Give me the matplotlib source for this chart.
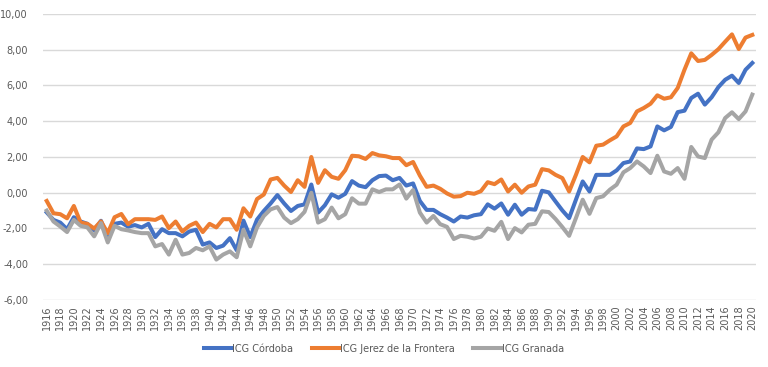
import matplotlib
matplotlib.use("Agg")
import matplotlib.pyplot as plt
from matplotlib.ticker import FuncFormatter, MultipleLocator

years = list(range(1916, 2021))

cordoba = [
    -1.10, -1.52, -1.67, -2.04, -1.37, -1.61, -1.74, -2.10, -1.57, -2.50,
    -1.74, -1.67, -1.90, -1.81, -1.94, -1.74, -2.48, -2.04, -2.26, -2.26,
    -2.44, -2.17, -2.07, -2.90, -2.78, -3.09, -2.96, -2.54, -3.22, -1.56,
    -2.48, -1.50, -1.02, -0.60, -0.13, -0.60, -1.02, -0.74, -0.65, 0.46,
    -1.11, -0.70, -0.09, -0.28, -0.06, 0.65, 0.40, 0.31, 0.70, 0.93,
    0.96, 0.70, 0.83, 0.40, 0.52, -0.46, -0.96, -0.96, -1.20, -1.39,
    -1.61, -1.33, -1.39, -1.26, -1.20, -0.65, -0.89, -0.60, -1.23, -0.67,
    -1.23, -0.91, -0.95, 0.11, 0.02, -0.49, -0.99, -1.42, -0.39, 0.63,
    0.07, 1.00, 1.00, 1.00, 1.25, 1.66, 1.75, 2.48, 2.44, 2.59,
    3.71, 3.49, 3.68, 4.51, 4.59, 5.30, 5.54, 4.93, 5.34, 5.91,
    6.32, 6.55, 6.14, 6.88, 7.26,
]

jerez = [
    -0.46, -1.15, -1.20, -1.43, -0.74, -1.67, -1.74, -2.00, -1.60, -2.26,
    -1.37, -1.19, -1.76, -1.48, -1.48, -1.48, -1.52, -1.33, -1.98, -1.61,
    -2.17, -1.85, -1.67, -2.20, -1.74, -1.94, -1.48, -1.48, -2.07, -0.87,
    -1.33, -0.35, -0.10, 0.74, 0.83, 0.40, 0.04, 0.70, 0.33, 2.00,
    0.55, 1.26, 0.89, 0.78, 1.26, 2.07, 2.04, 1.89, 2.22, 2.09,
    2.04, 1.94, 1.94, 1.54, 1.72, 0.96, 0.33, 0.40, 0.22, -0.04,
    -0.22, -0.19, 0.00, -0.06, 0.09, 0.59, 0.48, 0.74, 0.07, 0.45,
    0.00, 0.35, 0.45, 1.32, 1.25, 1.00, 0.82, 0.07, 1.00, 2.00,
    1.70, 2.63, 2.69, 2.93, 3.15, 3.71, 3.90, 4.55, 4.74, 4.98,
    5.45, 5.26, 5.34, 5.86, 6.88, 7.80, 7.37, 7.43, 7.71, 8.03,
    8.45, 8.86, 8.04, 8.68, 8.83,
]

granada = [
    -1.00, -1.61, -1.89, -2.20, -1.52, -1.85, -1.94, -2.44, -1.70, -2.78,
    -1.85, -2.04, -2.11, -2.20, -2.26, -2.26, -3.00, -2.87, -3.46, -2.63,
    -3.46, -3.37, -3.09, -3.22, -3.00, -3.74, -3.46, -3.28, -3.61, -2.07,
    -3.00, -1.94, -1.30, -0.93, -0.80, -1.39, -1.70, -1.48, -1.07, 0.00,
    -1.67, -1.48, -0.83, -1.43, -1.20, -0.31, -0.61, -0.61, 0.19, 0.04,
    0.19, 0.19, 0.46, -0.33, 0.15, -1.11, -1.67, -1.30, -1.76, -1.91,
    -2.59, -2.41, -2.46, -2.56, -2.46, -2.00, -2.13, -1.63, -2.59, -1.98,
    -2.22, -1.79, -1.74, -1.04, -1.08, -1.47, -1.92, -2.41, -1.42, -0.39,
    -1.18, -0.30, -0.20, 0.17, 0.45, 1.14, 1.38, 1.75, 1.47, 1.10,
    2.07, 1.19, 1.06, 1.38, 0.78, 2.56, 2.03, 1.94, 2.97, 3.38,
    4.18, 4.50, 4.12, 4.55, 5.49,
]

series_names = ["ICG Córdoba", "ICG Jerez de la Frontera", "ICG Granada"]
colors = ["#4472C4", "#ED7D31", "#A5A5A5"]

fig = plt.figure(figsize=(7.68, 3.67), dpi=100)
ax = fig.add_axes([0.0564, 0.1826, 0.9276, 0.7793])

for vals, name, c in zip([cordoba, jerez, granada], series_names, colors):
    ax.plot(years, vals, color=c, lw=2.9, label=name, solid_joinstyle="round", zorder=3)

ax.set_xlim(1915.5, 2020.5)
ax.set_ylim(-6, 10)
ax.yaxis.set_major_locator(MultipleLocator(2))
ax.yaxis.set_major_formatter(FuncFormatter(lambda v, p: f"{v:.2f}".replace(".", ",")))
ax.set_xticks(list(range(1916, 2021, 2)))
ax.set_xticklabels([str(y) for y in range(1916, 2021, 2)], rotation=90)

ax.grid(axis="y", color="#D9D9D9", lw=1.0, zorder=0)
for s in ax.spines.values():
    s.set_visible(False)
ax.tick_params(axis="both", length=0, labelsize=7, colors="#595959")
ax.tick_params(axis="y", pad=11)
ax.tick_params(axis="x", pad=4)

leg = fig.legend(loc="center", bbox_to_anchor=(0.5, 0.05), ncol=3, frameon=False,
                 fontsize=7, handlelength=2.8, handletextpad=0.1, columnspacing=1.9)
for t in leg.get_texts():
    t.set_color("#595959")

fig.savefig("out.png", dpi=100)
